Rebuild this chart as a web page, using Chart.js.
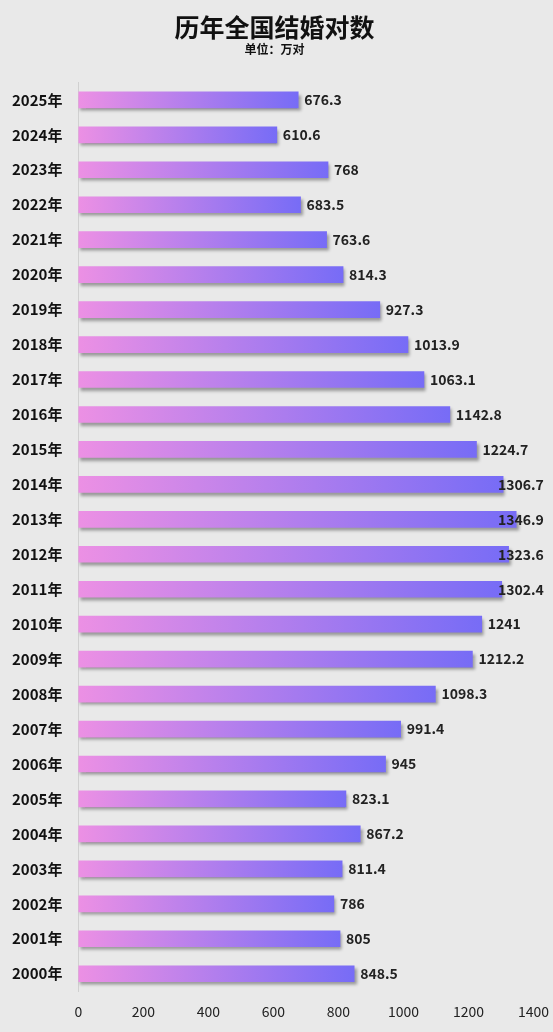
<!DOCTYPE html>
<html><head><meta charset="utf-8">
<script src="https://cdn.jsdelivr.net/npm/chart.js@4"></script>
<style>html,body{margin:0;background:#e9e9e9;}#w{width:553px;height:1032px;}</style>
</head><body><div id="w"><canvas id="c"></canvas></div>
<script>
const categories=["2025年","2024年","2023年","2022年","2021年","2020年","2019年","2018年","2017年","2016年","2015年","2014年","2013年","2012年","2011年","2010年","2009年","2008年","2007年","2006年","2005年","2004年","2003年","2002年","2001年","2000年"];
const values=[676.3,610.6,768,683.5,763.6,814.3,927.3,1013.9,1063.1,1142.8,1224.7,1306.7,1346.9,1323.6,1302.4,1241,1212.2,1098.3,991.4,945,823.1,867.2,811.4,786,805,848.5];
const labels=["676.3","610.6","768","683.5","763.6","814.3","927.3","1013.9","1063.1","1142.8","1224.7","1306.7","1346.9","1323.6","1302.4","1241","1212.2","1098.3","991.4","945","823.1","867.2","811.4","786","805","848.5"];
const F='"Noto Sans CJK SC","Noto Sans",sans-serif';
const valuePlugin={id:'vals',
 beforeDatasetsDraw(ch){const c=ch.ctx;c.save();c.shadowColor='rgba(0,0,0,0.35)';c.shadowBlur=3;c.shadowOffsetX=2;c.shadowOffsetY=3;},
 afterDatasetsDraw(ch){const c=ch.ctx;c.restore();c.save();c.font='bold 14px '+F;c.fillStyle='#222';c.textBaseline='middle';
  ch.getDatasetMeta(0).data.forEach((b,i)=>{c.fillText(labels[i],Math.min(b.x+6,498),b.y);});c.restore();}};
new Chart(document.getElementById('c'),{type:'bar',
 data:{labels:categories,datasets:[{data:values,barThickness:16,borderWidth:0,
  backgroundColor(ctx){const ch=ctx.chart;if(!ch.chartArea)return '#b07ef0';const x=ch.scales.x;
   const x0=x.getPixelForValue(0),x1=x.getPixelForValue(values[ctx.dataIndex]);
   const g=ch.ctx.createLinearGradient(x0,0,x1,0);g.addColorStop(0,'#ec90e4');g.addColorStop(1,'#776cf6');return g;}}]},
 options:{indexAxis:'y',responsive:true,maintainAspectRatio:false,animation:false,
  layout:{padding:{left:4,right:8,top:0,bottom:8}},
  plugins:{legend:{display:false},tooltip:{enabled:false},
   title:{display:true,text:'历年全国结婚对数',color:'#111',font:{family:F,size:25,weight:'bold'},padding:{top:12,bottom:0}},
   subtitle:{display:true,text:'单位：万对',color:'#111',font:{family:F,size:12,weight:'bold'},padding:{top:0,bottom:26}}},
  scales:{x:{min:0,max:1400,ticks:{stepSize:200,color:'#222',font:{family:F,size:14},padding:4,callback:v=>String(v)},grid:{display:false},border:{display:false}},
   y:{ticks:{color:'#111',font:{family:F,size:15,weight:'bold'},padding:8},grid:{display:false},border:{display:true,color:'#d0d0d0'}}}},
 plugins:[valuePlugin]});
</script></body></html>
